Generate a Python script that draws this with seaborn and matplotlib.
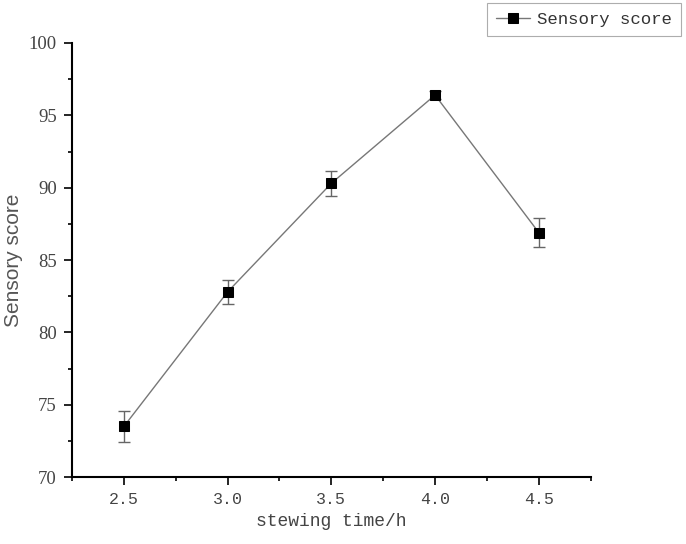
import numpy as np
import pandas as pd
import matplotlib
matplotlib.use("Agg")
import matplotlib.pyplot as plt
import seaborn as sns
from matplotlib.ticker import MultipleLocator

# data
time_h = [2.5, 3.0, 3.5, 4.0, 4.5]
score = [73.5, 82.8, 90.3, 96.4, 86.9]
score_err = [1.1, 0.85, 0.85, 0.3, 1.0]

df = pd.DataFrame({"time": time_h, "score": score, "err": score_err})

sns.set_style("ticks")
plt.rcParams['font.family'] = 'Liberation Serif'

fig = plt.figure(figsize=(6.86, 5.44), dpi=100)
ax = fig.add_axes([0.105, 0.123, 0.756, 0.798])

ax.errorbar(df["time"], df["score"], yerr=df["err"], fmt="none",
            ecolor="#666666", elinewidth=1.0, capsize=4.5, capthick=1.0, zorder=2)
sns.lineplot(data=df, x="time", y="score", ax=ax, color="#777777", linewidth=1.0,
             marker="s", markersize=7, markerfacecolor="black",
             markeredgecolor="black", label="Sensory score", legend=False, zorder=3)

ax.set_xlim(2.25, 4.75)
ax.set_ylim(70, 100)
ax.xaxis.set_minor_locator(MultipleLocator(0.25))
ax.yaxis.set_major_locator(MultipleLocator(5))
ax.yaxis.set_minor_locator(MultipleLocator(2.5))
ax.set_xticks([2.5, 3.0, 3.5, 4.0, 4.5])
ax.set_xticklabels(["2.5", "3.0", "3.5", "4.0", "4.5"], family="Liberation Mono",
                   fontsize=12, color="#444444")
for lbl in ax.get_yticklabels():
    lbl.set_fontsize(13.5)
    lbl.set_color("#444444")

ax.tick_params(axis="both", which="major", direction="out", length=6, width=1.2,
               color="black", pad=5)
ax.tick_params(axis="both", which="minor", direction="out", length=3, width=1.2,
               color="black")

sns.despine(ax=ax)
for s in ["left", "bottom"]:
    ax.spines[s].set_linewidth(1.5)
    ax.spines[s].set_color("black")

ax.set_xlabel("stewing time/h", family="Liberation Mono", fontsize=13, color="#444444")
ax.set_ylabel("Sensory score", family="Liberation Sans", fontsize=15, color="#555555",
              labelpad=4)

handles, labels = ax.get_legend_handles_labels()
leg = fig.legend(handles, labels, loc="upper left", bbox_to_anchor=(487 / 686, 1 - 3 / 544),
                 frameon=True, fancybox=False, shadow=False, handlelength=2.0,
                 handletextpad=0.4, prop={"family": "Liberation Mono", "size": 12.5},
                 borderpad=0.5, borderaxespad=0)
leg.get_frame().set_edgecolor("#999999")
leg.get_frame().set_linewidth(0.8)
for t in leg.get_texts():
    t.set_color("#333333")

fig.savefig("out.png", dpi=100)
